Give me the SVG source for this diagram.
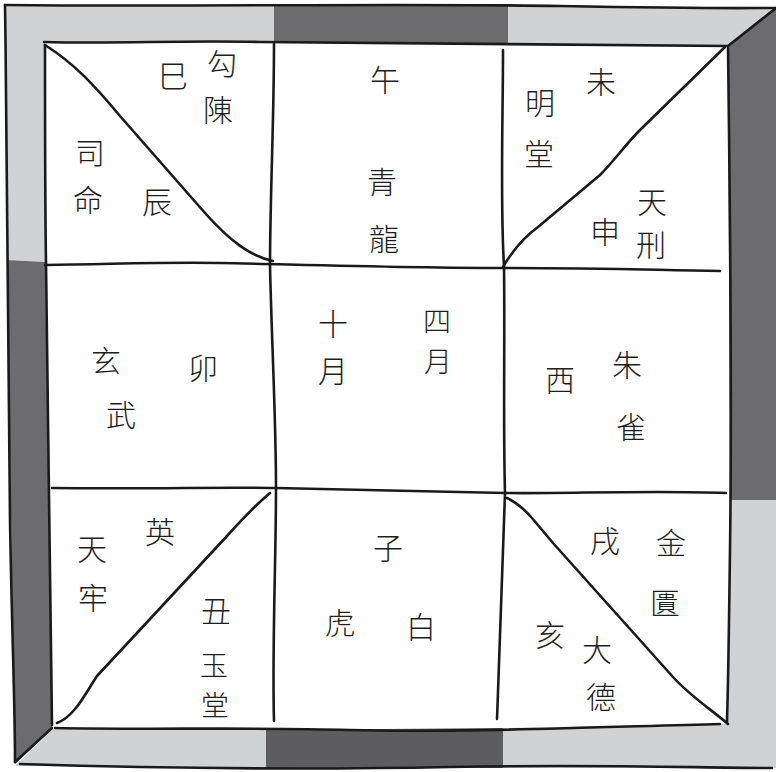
<svg xmlns="http://www.w3.org/2000/svg" width="776" height="772" viewBox="0 0 776 772">
<style>
.ln{fill:none;stroke:#1a1a1a;stroke-width:2.6;stroke-linecap:round;stroke-linejoin:round}
.lt{fill:#d1d2d4}
.dk{fill:#6c6c6e}
.dk2{fill:#5d5d5f}
text{font-family:"Noto Sans CJK TC","Noto Sans CJK SC",sans-serif;font-size:30px;font-weight:300;fill:#1e1e1e;text-anchor:middle;dominant-baseline:central}
.s{font-size:28px}
</style>
<rect width="776" height="772" fill="#fff"/>
<g id="frame">
<polygon class="lt" points="5,5 274,5 274,42 45,42 45,262 7,260"/>
<polygon class="dk" points="274,5 508,5 508,45 274,42"/>
<polygon class="lt" points="508,5 776,7 728,47 508,45"/>
<polygon class="dk" points="776,7 776,500 730,500 728,47"/>
<polygon class="lt" points="730,500 776,500 776,768 503,768 503,728 728,724"/>
<polygon class="dk2" points="266,730 503,728 503,768 266,768"/>
<polygon class="lt" points="53,729 266,730 266,768 15,766"/>
<polygon class="dk" points="7,260 45,262 52,729 15,764"/>
</g>
<g id="connectors">
<path class="ln" d="M5,5 C200,7 400,3 560,6 S740,8 776,8"/>
<path class="ln" d="M5,5 C8,200 8,400 10,520 S15,700 15,762"/>
<path class="ln" d="M20,764 C150,768 300,770 450,767 S700,768 772,768"/>
<path class="ln" d="M776,8 L728,46"/>
<path class="ln" d="M15,762 L52,728"/>
<path class="ln" d="M44,42 C120,44 180,40 260,42 S500,44 727,46"/>
<path class="ln" d="M45,45 C45,120 45,200 46,262 C48,400 50,600 52,725"/>
<path class="ln" d="M55,728 C150,730 250,727 350,730 S600,727 720,724"/>
<path class="ln" d="M728,48 C730,200 732,400 730,550 S728,680 727,722"/>
<path class="ln" d="M274,44 C274,120 270,200 270,266 C272,350 276,420 276,488 C276,560 272,650 274,721"/>
<path class="ln" d="M503,50 C503,120 500,200 504,266 C505,350 503,420 505,493 C503,560 500,640 497,719"/>
<path class="ln" d="M45,265 C120,264 160,262 220,263 S400,268 504,268 S650,270 720,271"/>
<path class="ln" d="M52,488 C150,489 220,487 276,488 S450,492 505,493 S650,490 726,493"/>
<path class="ln" d="M45,45 C75,64 95,86 120,116 L205,213 C230,241 250,256 273,261"/>
<path class="ln" d="M503,267 C510,255 520,240 538,227 L600,175 C615,160 625,145 640,130 L725,47"/>
<path class="ln" d="M57,723 C75,716 85,694 97,676 L150,619 L227,536 C245,516 258,503 270,493"/>
<path class="ln" d="M507,498 C518,503 525,510 532,518 L553,543 L673,677 C690,696 712,710 728,724"/>
</g>
<g id="cell-si">
<text x="173" y="74">巳</text><text x="222" y="62">勾</text><text x="218" y="108">陳</text>
<text x="90" y="151">司</text><text x="88" y="198">命</text><text x="157" y="200">辰</text>
</g>
<g id="cell-wu">
<text x="385" y="78">午</text><text x="382" y="180">青</text><text x="384" y="237">龍</text>
</g>
<g id="cell-wei">
<text x="601" y="80">未</text><text x="540" y="101">明</text><text x="539" y="152">堂</text>
<text x="652" y="200">天</text><text x="605" y="230">申</text><text x="651" y="243">刑</text>
</g>
<g id="cell-mao">
<text x="106" y="359">玄</text><text x="203" y="366">卯</text><text x="121" y="413">武</text>
</g>
<g id="cell-center">
<text x="333" y="322">十</text><text x="333" y="369">月</text><text class="s" x="437" y="320">四</text><text class="s" x="438" y="360">月</text>
</g>
<g id="cell-you">
<text x="560" y="378">西</text><text x="627" y="363">朱</text><text x="631" y="425">雀</text>
</g>
<g id="cell-chou">
<text x="160" y="530">英</text><text x="92" y="547">天</text><text x="93" y="596">牢</text>
<text x="216" y="609">丑</text><text class="s" x="214" y="664">玉</text><text class="s" x="215" y="704">堂</text>
</g>
<g id="cell-zi">
<text x="388" y="546">子</text><text x="340" y="621">虎</text><text x="421" y="625">白</text>
</g>
<g id="cell-xu">
<text x="605" y="539">戌</text><text x="671" y="541">金</text><text x="665" y="601">匱</text>
<text x="550" y="633">亥</text><text x="597" y="648">大</text><text x="601" y="695">德</text>
</g>
</svg>
